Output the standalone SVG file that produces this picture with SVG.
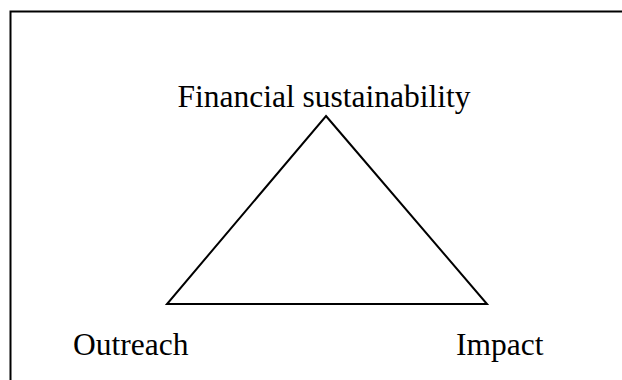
<svg xmlns="http://www.w3.org/2000/svg" width="622" height="380" viewBox="0 0 622 380">
<style>
.lbl{font-family:"Liberation Serif","Times New Roman",serif;font-size:31.5px;fill:#000}
.edge{fill:none;stroke:#000;stroke-width:2}
</style>
<rect width="622" height="380" fill="#fff"/>
<path d="M10.5,380 V11.5 H622" fill="none" stroke="#000" stroke-width="2"/>
<g id="connectors">
<path class="edge" d="M326,116 L487,304 L167,304 Z"/>
</g>
<g id="node-financial"><text class="lbl" x="324" y="107" text-anchor="middle">Financial sustainability</text></g>
<g id="node-outreach"><text class="lbl" x="73" y="355">Outreach</text></g>
<g id="node-impact"><text class="lbl" x="456" y="355">Impact</text></g>
</svg>
